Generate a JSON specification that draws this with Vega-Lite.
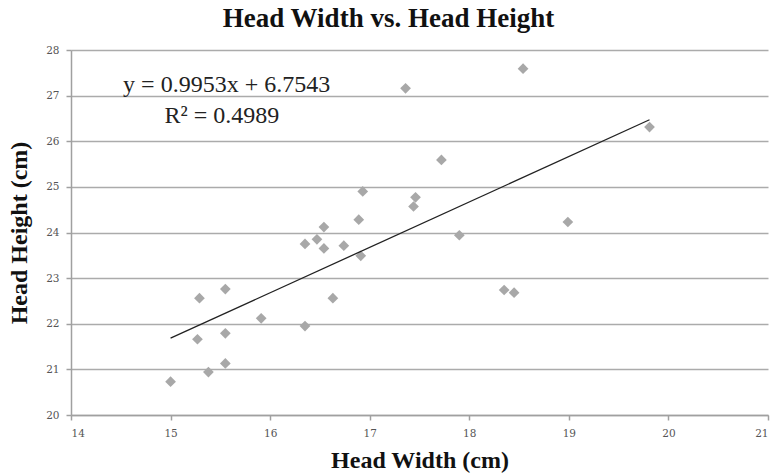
{
  "$schema": "https://vega.github.io/schema/vega-lite/v6.json",
  "width": 697,
  "height": 365,
  "autosize": {"type": "none"},
  "padding": {"left": 71, "top": 50, "right": 3, "bottom": 61},
  "background": "white",
  "title": {
    "text": "Head Width vs. Head Height",
    "font": "Liberation Serif",
    "fontSize": 27,
    "fontWeight": "bold",
    "color": "#111111",
    "anchor": "middle",
    "dx": -31,
    "offset": 12
  },
  "config": {
    "view": {"stroke": null},
    "axis": {
      "labelFont": "DejaVu Serif",
      "labelFontSize": 10.5,
      "labelColor": "#555555",
      "titleFont": "Liberation Serif",
      "titleFontSize": 24,
      "titleFontWeight": "bold",
      "titleColor": "#111111",
      "domainColor": "#a0a0a0",
      "domainWidth": 1.5,
      "tickColor": "#a0a0a0",
      "tickWidth": 1.5,
      "tickSize": 5,
      "gridColor": "#ababab",
      "gridWidth": 1.6
    }
  },
  "datasets": {
    "pts": [
      {"w": 15.00, "h": 20.73},
      {"w": 15.29, "h": 22.56},
      {"w": 15.27, "h": 21.66},
      {"w": 15.38, "h": 20.94},
      {"w": 15.55, "h": 22.76},
      {"w": 15.55, "h": 21.79},
      {"w": 15.55, "h": 21.13},
      {"w": 15.91, "h": 22.12},
      {"w": 16.35, "h": 23.75},
      {"w": 16.35, "h": 21.95},
      {"w": 16.47, "h": 23.85},
      {"w": 16.54, "h": 24.12},
      {"w": 16.54, "h": 23.65},
      {"w": 16.63, "h": 22.56},
      {"w": 16.74, "h": 23.71},
      {"w": 16.89, "h": 24.28},
      {"w": 16.91, "h": 23.49},
      {"w": 16.93, "h": 24.90},
      {"w": 17.44, "h": 24.57},
      {"w": 17.46, "h": 24.77},
      {"w": 17.36, "h": 27.16},
      {"w": 17.72, "h": 25.59},
      {"w": 18.54, "h": 27.59},
      {"w": 19.81, "h": 26.31},
      {"w": 17.90, "h": 23.94},
      {"w": 18.99, "h": 24.23},
      {"w": 18.35, "h": 22.74},
      {"w": 18.45, "h": 22.68}
    ],
    "trend": [
      {"w": 15.00, "h": 21.684},
      {"w": 19.81, "h": 26.471}
    ],
    "eq": [
      {"w": 15.563, "h": 27.083, "label": "y = 0.9953x + 6.7543"},
      {"w": 15.516, "h": 26.404, "label": "R² = 0.4989"}
    ]
  },
  "layer": [
    {
      "data": {"name": "pts"},
      "mark": {"type": "point", "shape": "diamond", "filled": true, "color": "#a8a8a8", "opacity": 1, "size": 115},
      "encoding": {
        "x": {
          "field": "w", "type": "quantitative",
          "scale": {"domain": [14, 21], "nice": false, "zero": false},
          "axis": {"title": "Head Width (cm)", "values": [14, 15, 16, 17, 18, 19, 20, 21], "format": "d", "grid": false, "labelPadding": 8, "titlePadding": 10}
        },
        "y": {
          "field": "h", "type": "quantitative",
          "scale": {"domain": [20, 28], "nice": false, "zero": false},
          "axis": {"title": "Head Height (cm)", "values": [20, 21, 22, 23, 24, 25, 26, 27, 28], "format": "d", "grid": true, "labelPadding": 7, "titlePadding": 14}
        }
      }
    },
    {
      "data": {"name": "trend"},
      "mark": {"type": "line", "color": "#222222", "strokeWidth": 1.3},
      "encoding": {
        "x": {"field": "w", "type": "quantitative"},
        "y": {"field": "h", "type": "quantitative"}
      }
    },
    {
      "data": {"name": "eq"},
      "mark": {"type": "text", "font": "Liberation Serif", "fontSize": 24, "color": "#222222", "align": "center", "baseline": "alphabetic"},
      "encoding": {
        "x": {"field": "w", "type": "quantitative"},
        "y": {"field": "h", "type": "quantitative"},
        "text": {"field": "label"}
      }
    }
  ]
}
